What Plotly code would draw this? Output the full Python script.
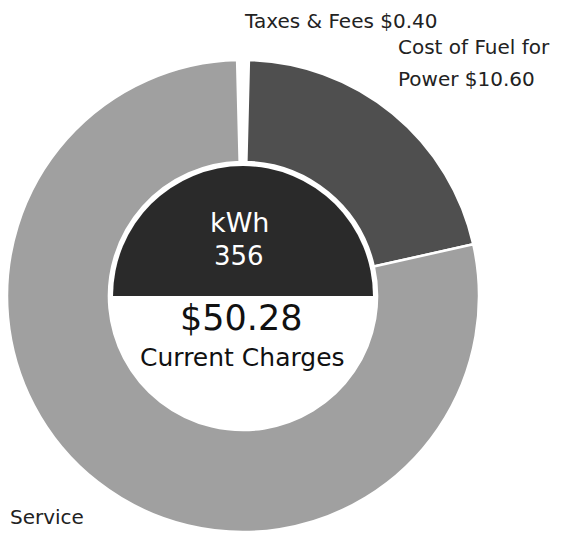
import plotly.graph_objects as go

# Bill breakdown (dollars)
categories = ["Taxes & Fees", "Cost of Fuel for Power", "Service"]
amounts = [0.40, 10.60, 39.28]
total_charges = 50.28
kwh_used = 356

slice_colors = ["#ffffff", "#4f4f4f", "#a0a0a0"]

W, H = 572, 536
cx, cy, R = 243, 296, 236          # donut centre and outer radius (px)
disk_r = 130                       # centre badge radius (px)
FONT = "DejaVu Sans"

margin = dict(l=cx - R, r=W - (cx + R), t=cy - R, b=H - (cy + R))
side = 2 * R


def px(x):
    return (x - margin["l"]) / side


def py(y):
    return (H - margin["b"] - y) / side


# centre the tiny taxes slice on 12 o'clock
rot = -amounts[0] / sum(amounts) * 360 / 2

fig = go.Figure()
fig.add_trace(go.Pie(
    labels=categories,
    values=amounts,
    hole=0.568,
    sort=False,
    direction="clockwise",
    rotation=rot,
    marker=dict(colors=slice_colors, line=dict(color="white", width=2.5)),
    textinfo="none",
    hoverinfo="label+value",
    showlegend=False,
))

# centre badge: dark upper half, white lower half
fig.add_trace(go.Pie(
    labels=["kWh", "Current Charges"],
    values=[1, 1],
    sort=False,
    direction="counterclockwise",
    rotation=-90,
    marker=dict(colors=["#2a2a2a", "#ffffff"], line=dict(width=0)),
    textinfo="none",
    hoverinfo="skip",
    showlegend=False,
    domain=dict(x=[0.5 - disk_r / side, 0.5 + disk_r / side],
                y=[0.5 - disk_r / side, 0.5 + disk_r / side]),
))

ann = []


def label(text, x, y, size, color="#222222", xanchor="center"):
    ann.append(dict(text=text, x=px(x), y=py(y), xref="paper", yref="paper",
                    xanchor=xanchor, yanchor="middle", showarrow=False,
                    font=dict(family=FONT, size=size, color=color)))


label("kWh", 239, 222, 27, "white")
label(str(kwh_used), 239, 256, 26, "white")
label(f"${total_charges:.2f}", 241, 318, 35, "#111111")
label("Current Charges", 242, 357, 25, "#111111")

label(f"{categories[0]} ${amounts[0]:.2f}", 242, 21, 20, xanchor="left")
label("Cost of Fuel for", 396, 47, 20, xanchor="left")
label(f"Power ${amounts[1]:.2f}", 396, 79, 20, xanchor="left")
label(categories[2], 8, 517, 20, xanchor="left")

fig.update_layout(
    width=W, height=H,
    margin=margin,
    paper_bgcolor="white",
    plot_bgcolor="white",
    annotations=ann,
)

fig.write_html("out.html")
